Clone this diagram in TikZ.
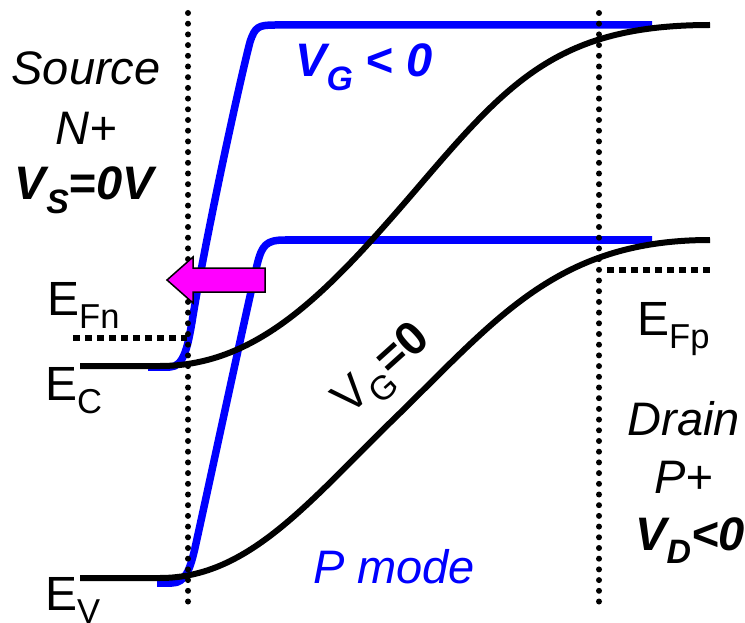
\documentclass[tikz,border=0pt]{standalone}
\usepackage{fontspec}
\setmainfont{Liberation Sans}
\definecolor{bandblue}{RGB}{0,0,255}
\definecolor{flowpink}{RGB}{255,0,255}
\newcommand\dsub[1]{\raisebox{-0.28em}{\scalebox{0.72}{#1}}}

\begin{document}
\begin{tikzpicture}[x=1pt,y=-1pt,
    lbl/.style={anchor=base,inner sep=0pt,font=\fontsize{47}{52}\selectfont},
    elbl/.style={anchor=base west,inner sep=0pt,font=\fontsize{48}{54}\selectfont},
    band/.style={line width=6pt,line join=round},
    gband/.style={band,draw=bandblue,line width=7.5pt},
    edge/.style={line width=6pt,line cap=round,dash pattern=on 0pt off 10.7pt},
    fermi/.style={line width=5.5pt,dash pattern=on 6.5pt off 5.5pt},
    pinkarrow/.style={fill=flowpink,draw=black,line width=1.5pt,line join=miter}]
  \useasboundingbox (0,0) rectangle (745,623);

  % bands for V_G<0
  \draw[gband] (148,367) -- (170,367) .. controls (184,367) and (188,345) .. (192,322)
    .. controls (205,240) and (240,80) .. (250,42) .. controls (255,27) and (258,25) .. (275,25) -- (652,25);
  \draw[gband] (157,583) -- (172,583) .. controls (185,583) and (190,570) .. (195,548)
    .. controls (210,480) and (240,340) .. (257,265) .. controls (262,245) and (266,240) .. (285,240) -- (652,240);

  % bands for V_G=0
  \draw[band] (80,366) -- (160,366) .. controls (260,366) and (330,290) .. (420,185)
    .. controls (510,80) and (560,25) .. (710,25);
  \draw[band] (80,578) -- (160,578) .. controls (250,578) and (310,500) .. (400,413)
    .. controls (500,315) and (560,240) .. (710,240);

  % junction edges
  \coordinate (srcTop) at (188,13);
  \coordinate (srcBot) at (188,612);
  \coordinate (drnTop) at (599,13);
  \coordinate (drnBot) at (599,612);
  \draw[edge] (srcTop) -- (srcBot);
  \draw[edge] (drnTop) -- (drnBot);

  % quasi Fermi levels
  \coordinate (efnL) at (73,338);
  \coordinate (efnR) at (187,338);
  \coordinate (efpL) at (607,270);
  \coordinate (efpR) at (711,270);
  \draw[fermi] (efnL) -- (efnR);
  \draw[fermi] (efpL) -- (efpR);

  \draw[pinkarrow] (265,268) -- (193,268) -- (193,257) -- (167,280) -- (193,303)
    -- (193,292) -- (265,292) -- cycle;

  \node[lbl] (src) at (86,85) {\textit{Source}};
  \node[lbl] (srcN) at (86,145) {\textit{N+}};
  \node[lbl] (srcV) at (86,200) {\textbf{\textit{V\dsub{S}=0V}}};

  \node[lbl] (drn) at (684,435) {\textit{Drain}};
  \node[lbl] (drnP) at (684,493) {\textit{P+}};
  \node[lbl] (drnV) at (690,550) {\textbf{\textit{V\dsub{D}<0}}};

  \node[lbl,anchor=base west,text=bandblue] (vgneg) at (295,77) {\textbf{\textit{V\dsub{G} < 0}}};
  \node[lbl,anchor=center,rotate=42] (vgzero) at (384,372) {V\dsub{G}\textbf{=0}};
  \node[lbl,anchor=base west,text=bandblue] (pmode) at (313,583) {\textit{P mode}};

  \node[elbl] (efn) at (47,315) {E\dsub{Fn}};
  \node[elbl] (ec) at (45,400) {E\dsub{C}};
  \node[elbl] (ev) at (45,610) {E\dsub{V}};
  \node[elbl] (efp) at (637,335) {E\dsub{Fp}};
\end{tikzpicture}
\end{document}
